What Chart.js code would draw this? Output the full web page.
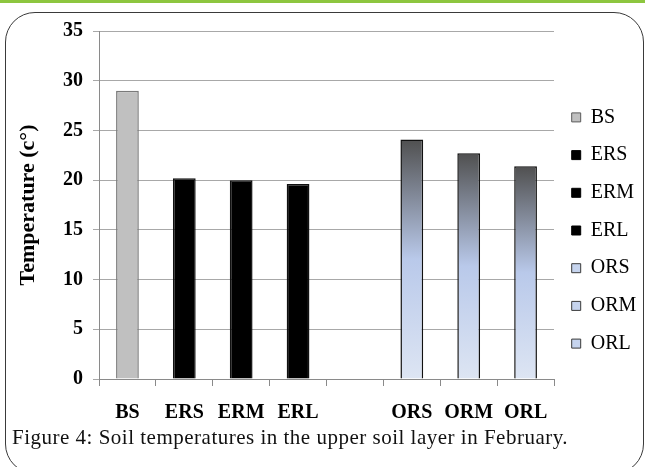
<!DOCTYPE html>
<html>
<head>
<meta charset="utf-8">
<script src="https://cdn.jsdelivr.net/npm/chart.js@4"></script>
<style>
  html, body { margin: 0; padding: 0; background: #fff; }
  body { width: 645px; height: 467px; position: relative; overflow: hidden; }
  #topLine { position: absolute; left: 0; top: 0; width: 645px; height: 3px; background: #8dc63f; }
  #frame { position: absolute; left: 5px; top: 12px; width: 639px; height: 462px;
           border: 1.5px solid #3a3a3a; border-radius: 30px; box-sizing: border-box; }
  #chartCanvas { position: absolute; left: 0; top: 0; }
  #caption { position: absolute; left: 12px; top: 425px; font-family: "Liberation Serif", serif;
             font-size: 21px; color: #111; white-space: nowrap; letter-spacing: 0.5px; }
</style>
</head>
<body>
<div id="topLine"></div>
<div id="frame"></div>
<canvas id="chartCanvas" width="645" height="430"></canvas>
<div id="caption">Figure 4: Soil temperatures in the upper soil layer in February.</div>
<script>
// ---------------- Data ---------------------------------------------------
const categories = [ 'BS', 'ERS', 'ERM', 'ERL', '', 'ORS', 'ORM', 'ORL' ] ;
const temperatures = [ 29.0, 20.2, 20.0, 19.6, null, 24.1, 22.7, 21.4 ] ;
const yTicks = [ 0, 5, 10, 15, 20, 25, 30, 35 ] ;

// ---------------- Styles -------------------------------------------------
const serif = '"Liberation Serif", "Times New Roman", serif' ;

function orGradient( ctx ) {
    const chart = ctx.chart ;
    if( !chart.chartArea || ctx.raw == null ) return '#c5d3ee' ;
    const yScale = chart.scales.y ;
    const top = yScale.getPixelForValue( ctx.raw ) ;
    const base = yScale.getPixelForValue( 0 ) ;
    const g = chart.ctx.createLinearGradient( 0, top, 0, base ) ;
    g.addColorStop( 0, '#505050' ) ;
    g.addColorStop( 0.5, '#b9c9ea' ) ;
    g.addColorStop( 1, '#dde5f3' ) ;
    return g ;
}

function barFill( ctx ) {
    const label = categories[ ctx.dataIndex ] || '' ;
    if( label.startsWith( 'B' ) ) return '#c0c0c0' ;
    if( label.startsWith( 'E' ) ) return '#000000' ;
    return orGradient( ctx ) ;
}

function barBorder( ctx ) {
    const label = categories[ ctx.dataIndex ] || '' ;
    if( label.startsWith( 'B' ) ) return '#7a7a7a' ;
    return '#111111' ;
}

function legendItems() {
    return categories
        .map( ( c, i ) => {
            let fill = '#c6d4ee', stroke = '#3a3a3a' ;
            if( c.startsWith( 'B' ) ) { fill = '#c0c0c0' ; stroke = '#5a5a5a' ; }
            if( c.startsWith( 'E' ) ) { fill = '#000000' ; stroke = '#000000' ; }
            return { text: c, fillStyle: fill, strokeStyle: stroke, lineWidth: 1,
                     hidden: false, index: i, fontColor: '#000' } ;
        } )
        .filter( it => it.text !== '' ) ;
}

// ---------------- Chart --------------------------------------------------
const chart = new Chart( document.getElementById( 'chartCanvas' ), {
    type: 'bar',
    data: {
        labels: categories,
        datasets: [ {
            data: temperatures,
            backgroundColor: barFill,
            borderColor: barBorder,
            borderWidth: 1.5,
            categoryPercentage: 1.0,
            barPercentage: 0.4
        } ]
    },
    options: {
        responsive: false,
        animation: false,
        devicePixelRatio: 1,
        layout: { padding: { top: 31, right: 0, bottom: 0, left: 0 } },
        plugins: {
            tooltip: { enabled: false },
            legend: {
                position: 'right',
                align: 'center',
                maxWidth: 91,
                labels: {
                    generateLabels: legendItems,
                    boxWidth: 9,
                    boxHeight: 9,
                    padding: 17.7,
                    color: '#000',
                    font: { family: serif, size: 20 }
                }
            }
        },
        scales: {
            x: {
                grid: { offset: true, drawOnChartArea: false, tickLength: 7, color: '#8a8a8a' },
                border: { color: '#8a8a8a' },
                ticks: { color: '#000', padding: 15, font: { family: serif, size: 20, weight: 'bold' } },
                afterFit: s => { s.height = 51 ; }
            },
            y: {
                min: 0,
                max: 35,
                afterBuildTicks: s => { s.ticks = yTicks.map( v => ( { value: v } ) ) ; },
                grid: { color: '#a8a8a8', tickLength: 6 },
                border: { color: '#8a8a8a' },
                ticks: { color: '#000', padding: 10, font: { family: serif, size: 20, weight: 'bold' } },
                title: {
                    display: true,
                    text: 'Temperature (c°)',
                    color: '#000',
                    padding: { top: 15, bottom: 0 },
                    font: { family: serif, size: 22, weight: 'bold' }
                },
                afterFit: s => { s.width = 99 ; }
            }
        }
    }
} ) ;
</script>
</body>
</html>
